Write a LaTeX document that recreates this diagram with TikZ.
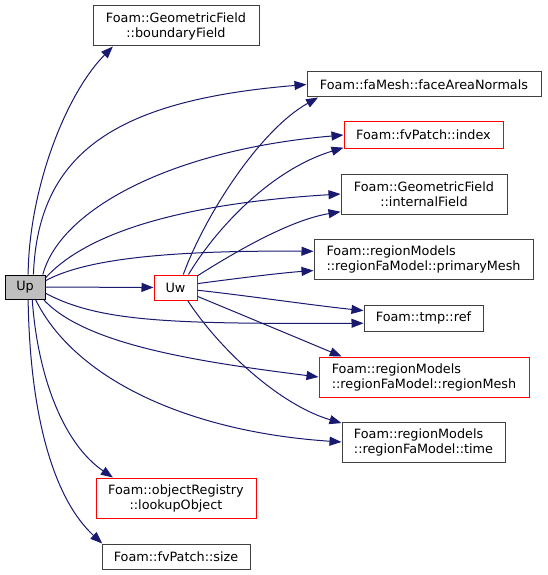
\documentclass[tikz,border=0pt]{standalone}
\usepackage{fontspec}
\setmainfont{DejaVu Sans}
\usetikzlibrary{arrows.meta}

\definecolor{callblue}{HTML}{191970}
\definecolor{boxgrey}{HTML}{404040}

\begin{document}
\begin{tikzpicture}[x=1pt, y=-1pt, every node/.style={font=\fontsize{12.8}{15}\selectfont, inner sep=0pt}, >={Triangle[length=12pt,width=9pt]},
	fn/.style={draw=boxgrey, line width=1pt, fill=white, align=center},
	fnred/.style={fn, draw=red},
	call/.style={->, callblue, line width=1pt}]
	\useasboundingbox (0,0) rectangle (547,575);
	% nodes
	\node[fn, draw=black, fill=black!25, minimum width=40pt, minimum height=24pt] (up) at (25,287) {Up};
	\node[fnred, minimum width=43pt, minimum height=25pt] (uw) at (175.5,287.5) {Uw};
	\node[fn, minimum width=166pt, minimum height=40pt] (bnd) at (176,26) {Foam::GeometricField\\::boundaryField};
	\node[fn, minimum width=234pt, minimum height=25pt] (fan) at (424,84.5) {Foam::faMesh::faceAreaNormals};
	\node[fnred, minimum width=159pt, minimum height=26pt] (idx) at (423.5,135) {Foam::fvPatch::index};
	\node[fn, minimum width=166pt, minimum height=40pt] (intf) at (424,194) {Foam::GeometricField\\::internalField};
	\node[fn, align=left, minimum width=219pt, minimum height=40pt] (pmesh) at (423.5,259) {Foam::regionModels\\::regionFaModel::primaryMesh};
	\node[fn, minimum width=119pt, minimum height=26pt] (tref) at (423.5,318) {Foam::tmp::ref};
	\node[fnred, align=left, minimum width=210pt, minimum height=40pt] (rmesh) at (424,377) {Foam::regionModels\\::regionFaModel::regionMesh};
	\node[fn, align=left, minimum width=163pt, minimum height=40pt] (rtime) at (423.5,442) {Foam::regionModels\\::regionFaModel::time};
	\node[fnred, minimum width=160pt, minimum height=40pt] (lookup) at (176,498) {Foam::objectRegistry\\::lookupObject};
	\node[fn, minimum width=148pt, minimum height=25pt] (psize) at (176,556.5) {Foam::fvPatch::size};
	% calls from Up
	\draw[call] (up) -- (uw);
	\draw[call] (up.76) .. controls (29,190) and (65,95) .. (bnd.198);
	\draw[call] (up.56) .. controls (38,150) and (120,100) .. (fan.west);
	\draw[call] (up.35) .. controls (60,210) and (170,150) .. (idx.west);
	\draw[call] (up.24) .. controls (80,240) and (160,205) .. (intf.west);
	\draw[call] (up.17) .. controls (80,262) and (150,250) .. (pmesh.176);
	\draw[call] (up.-17) .. controls (100,322) and (170,324) .. (tref.185);
	\draw[call] (up.-34) .. controls (85,345) and (200,362) .. (rmesh.west);
	\draw[call] (up.-50) .. controls (75,380) and (190,432) .. (rtime.west);
	\draw[call] (up.-60) .. controls (38,380) and (65,445) .. (lookup.162);
	\draw[call] (up.-76) .. controls (30,420) and (55,500) .. (psize.170);
	% calls from Uw
	\draw[call] (uw.59) .. controls (205,215) and (260,130) .. (fan.187);
	\draw[call] (uw.45) .. controls (215,230) and (270,170) .. (idx.189);
	\draw[call] (uw.28) .. controls (235,252) and (290,220) .. (intf.192);
	\draw[call] (uw.10) .. controls (240,278) and (280,273) .. (pmesh.186);
	\draw[call] (uw.-7) .. controls (250,296) and (310,305) .. (tref.173);
	\draw[call] (uw.-22) .. controls (240,314) and (300,339) .. (rmesh.166);
	\draw[call] (uw.-47) .. controls (220,350) and (280,405) .. (rtime.167);
\end{tikzpicture}
\end{document}
